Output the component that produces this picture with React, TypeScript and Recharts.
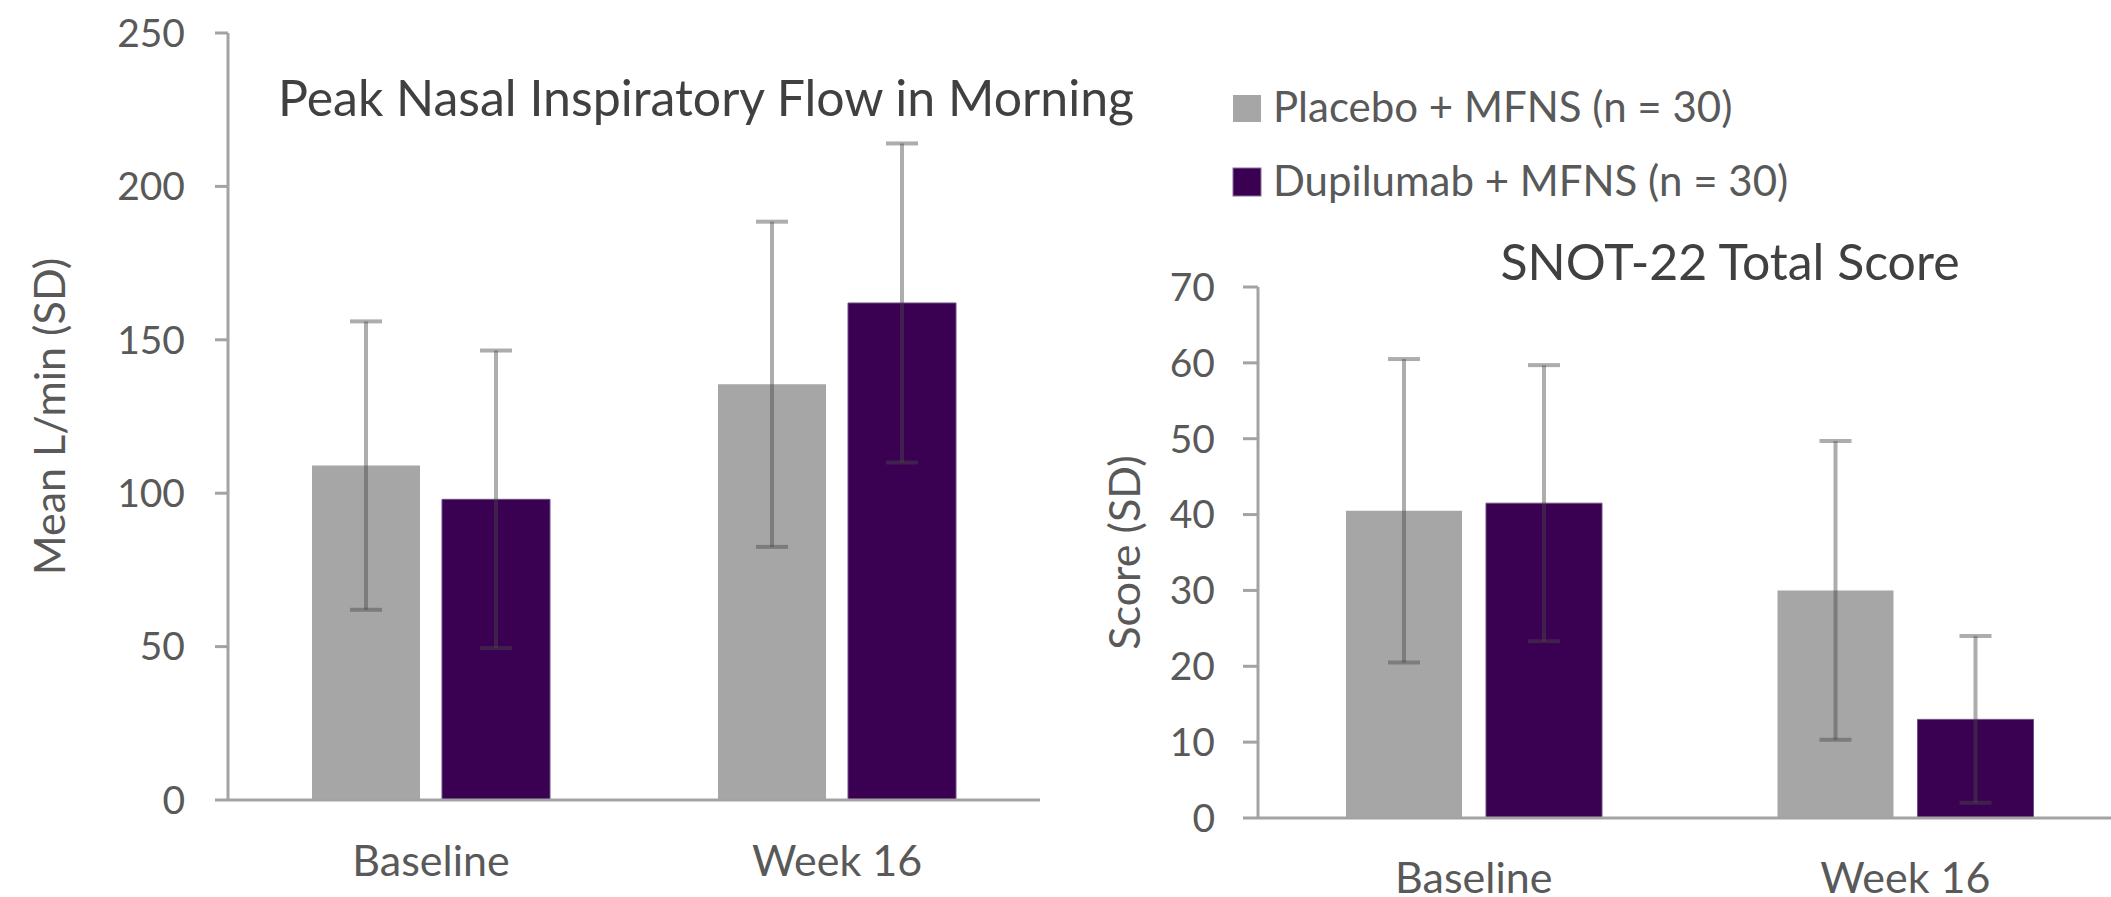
import { BarChart, Bar, XAxis, YAxis, ErrorBar } from 'recharts';

const categories = ['Baseline', 'Week 16'];

// Peak nasal inspiratory flow, L/min
const pnifPlacebo = [109, 135.5];
const pnifPlaceboSd = [47, 53];
const pnifDupilumab = [98, 162];
const pnifDupilumabSd = [48.5, 52];
const pnifTicks = [0, 50, 100, 150, 200, 250];

// SNOT-22 total score
const snotPlacebo = [40.5, 30];
const snotPlaceboSd = [20, 19.7];
const snotDupilumab = [41.5, 13];
const snotDupilumabSd = [18.2, 11];
const snotTicks = [0, 10, 20, 30, 40, 50, 60, 70];

const seriesNames = ['Placebo + MFNS (n = 30)', 'Dupilumab + MFNS (n = 30)'];

const GRAY = '#a6a6a6';
const PURPLE = '#3a0052';
const AXIS = '#a3a3a3';
const TEXT = '#595959';
const FONT = 'Lato';

const pnifRows = categories.map((category, i) => ({
  category,
  placebo: pnifPlacebo[i],
  placeboSd: pnifPlaceboSd[i],
  dupilumab: pnifDupilumab[i],
  dupilumabSd: pnifDupilumabSd[i],
}));

const snotRows = categories.map((category, i) => ({
  category,
  placebo: snotPlacebo[i],
  placeboSd: snotPlaceboSd[i],
  dupilumab: snotDupilumab[i],
  dupilumabSd: snotDupilumabSd[i],
}));

const tickStyle = { fill: TEXT, fontSize: 39, fontFamily: FONT };
const labelStyle = { textAnchor: 'middle', fill: TEXT, fontSize: 43, fontFamily: FONT };

function Bars() {
  return [
    <Bar key="p" dataKey="placebo" name={seriesNames[0]} fill={GRAY} isAnimationActive={false}>
      <ErrorBar dataKey="placeboSd" width={16} strokeWidth={4} stroke="#4a4a4a" strokeOpacity={0.45} />
    </Bar>,
    <Bar key="d" dataKey="dupilumab" name={seriesNames[1]} fill={PURPLE} stroke="#6d4f80" strokeWidth={1} isAnimationActive={false}>
      <ErrorBar dataKey="dupilumabSd" width={16} strokeWidth={4} stroke="#4a4a4a" strokeOpacity={0.45} />
    </Bar>,
  ];
}

export default function App() {
  return (
    <div style={{ position: 'absolute', left: 0, top: 0, width: 2111, height: 897, overflow: 'hidden', background: '#fff' }}>
      {/* left: PNIF */}
      <div style={{ position: 'absolute', left: 0, top: 0 }}>
        <BarChart width={1100} height={897} data={pnifRows} margin={{ top: 33, right: 60, left: 0, bottom: 0 }} barSize={108} barGap={22}>
          <XAxis
            dataKey="category"
            height={97}
            tickLine={false}
            tickSize={0}
            tickMargin={45}
            axisLine={{ stroke: AXIS, strokeWidth: 3 }}
            tick={{ ...tickStyle, fontSize: 43 }}
          />
          <YAxis
            width={228}
            domain={[0, 250]}
            ticks={pnifTicks}
            tickSize={13}
            tickMargin={30}
            axisLine={{ stroke: AXIS, strokeWidth: 3 }}
            tickLine={{ stroke: AXIS, strokeWidth: 3 }}
            tick={tickStyle}
            label={{ value: 'Mean L/min (SD)', angle: -90, position: 'insideLeft', offset: 50, style: labelStyle }}
          />
          {Bars()}
        </BarChart>
      </div>

      {/* right: SNOT-22 */}
      <div style={{ position: 'absolute', left: 1080, top: 0 }}>
        <BarChart width={1041} height={897} data={snotRows} margin={{ top: 287, right: 0, left: 0, bottom: 0 }} barSize={116} barGap={24}>
          <XAxis
            dataKey="category"
            height={79}
            tickLine={false}
            tickSize={0}
            tickMargin={44}
            axisLine={{ stroke: AXIS, strokeWidth: 3 }}
            tick={{ ...tickStyle, fontSize: 43 }}
          />
          <YAxis
            width={178}
            domain={[0, 70]}
            ticks={snotTicks}
            tickSize={15}
            tickMargin={28}
            axisLine={{ stroke: AXIS, strokeWidth: 3 }}
            tickLine={{ stroke: AXIS, strokeWidth: 3 }}
            tick={tickStyle}
            label={{ value: 'Score (SD)', angle: -90, position: 'insideLeft', offset: 45, style: labelStyle }}
          />
          {Bars()}
        </BarChart>
      </div>

      {/* titles + legend */}
      <svg width={2111} height={897} style={{ position: 'absolute', left: 0, top: 0, pointerEvents: 'none' }} fontFamily={FONT}>
        <text x={706} y={116} textAnchor="middle" fontSize={50} fill="#404040">Peak Nasal Inspiratory Flow in Morning</text>
        <text x={1730} y={280} textAnchor="middle" fontSize={50} fill="#404040">SNOT-22 Total Score</text>
        <rect x={1233} y={95} width={28} height={27} fill={GRAY} />
        <text x={1273} y={122} fontSize={42} fill={TEXT}>{seriesNames[0]}</text>
        <rect x={1233} y={168} width={28} height={28} fill={PURPLE} stroke="#8a6f9c" strokeWidth={1} />
        <text x={1273} y={196} fontSize={42} fill={TEXT}>{seriesNames[1]}</text>
      </svg>
    </div>
  );
}
